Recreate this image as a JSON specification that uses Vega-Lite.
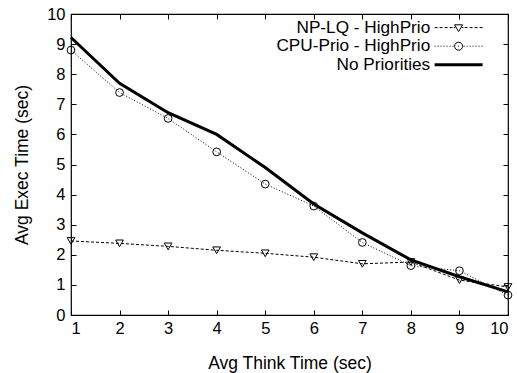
{
  "$schema": "https://vega.github.io/schema/vega-lite/v6.json",
  "width": 437,
  "height": 301,
  "autosize": "none",
  "padding": {"left": 71, "top": 14, "right": 9, "bottom": 58},
  "config": {
    "view": {"stroke": "black", "strokeWidth": 1.2},
    "font": "Liberation Sans",
    "axis": {
      "labelFont": "Liberation Sans", "labelFontSize": 16.5, "titleFont": "Liberation Sans", "titleFontSize": 17.5,
      "titleFontWeight": "normal", "labelColor": "black", "titleColor": "black", "tickColor": "black",
      "grid": false, "domain": false, "tickSize": -5, "tickWidth": 1
    }
  },
  "data": {"values": [
    {"t": 1, "s": "NP-LQ - HighPrio", "v": 2.46},
    {"t": 2, "s": "NP-LQ - HighPrio", "v": 2.38},
    {"t": 3, "s": "NP-LQ - HighPrio", "v": 2.28},
    {"t": 4, "s": "NP-LQ - HighPrio", "v": 2.15},
    {"t": 5, "s": "NP-LQ - HighPrio", "v": 2.05},
    {"t": 6, "s": "NP-LQ - HighPrio", "v": 1.92},
    {"t": 7, "s": "NP-LQ - HighPrio", "v": 1.70},
    {"t": 8, "s": "NP-LQ - HighPrio", "v": 1.76},
    {"t": 9, "s": "NP-LQ - HighPrio", "v": 1.16},
    {"t": 10, "s": "NP-LQ - HighPrio", "v": 0.93},
    {"t": 1, "s": "CPU-Prio - HighPrio", "v": 8.80},
    {"t": 2, "s": "CPU-Prio - HighPrio", "v": 7.39},
    {"t": 3, "s": "CPU-Prio - HighPrio", "v": 6.53},
    {"t": 4, "s": "CPU-Prio - HighPrio", "v": 5.42},
    {"t": 5, "s": "CPU-Prio - HighPrio", "v": 4.35},
    {"t": 6, "s": "CPU-Prio - HighPrio", "v": 3.62},
    {"t": 7, "s": "CPU-Prio - HighPrio", "v": 2.41},
    {"t": 8, "s": "CPU-Prio - HighPrio", "v": 1.64},
    {"t": 9, "s": "CPU-Prio - HighPrio", "v": 1.47},
    {"t": 10, "s": "CPU-Prio - HighPrio", "v": 0.66},
    {"t": 1, "s": "No Priorities", "v": 9.22},
    {"t": 2, "s": "No Priorities", "v": 7.70},
    {"t": 3, "s": "No Priorities", "v": 6.72},
    {"t": 4, "s": "No Priorities", "v": 6.00},
    {"t": 5, "s": "No Priorities", "v": 4.90},
    {"t": 6, "s": "No Priorities", "v": 3.69},
    {"t": 7, "s": "No Priorities", "v": 2.73},
    {"t": 8, "s": "No Priorities", "v": 1.83},
    {"t": 9, "s": "No Priorities", "v": 1.27},
    {"t": 10, "s": "No Priorities", "v": 0.77}
  ]},
  "resolve": {"axis": {"x": "independent", "y": "independent"}},
  "layer": [
    {
      "transform": [{"filter": "datum.s !== 'No Priorities'"}],
      "mark": {"type": "line", "strokeJoin": "miter", "strokeWidth": 1},
      "encoding": {
        "x": {"field": "t", "type": "quantitative", "scale": {"domain": [1, 10], "nice": false, "zero": false},
          "axis": {"orient": "bottom", "title": "Avg Think Time (sec)", "values": [1,2,3,4,5,6,7,8,9,10], "labelPadding": 10, "titlePadding": 17.5}},
        "y": {"field": "v", "type": "quantitative", "scale": {"domain": [0, 10], "nice": false},
          "axis": {"orient": "left", "title": "Avg Exec Time (sec)", "values": [0,1,2,3,4,5,6,7,8,9,10], "labelPadding": 11, "titlePadding": 15}},
        "color": {"field": "s", "type": "nominal",
          "scale": {"domain": ["NP-LQ - HighPrio", "CPU-Prio - HighPrio", "No Priorities"], "range": ["black", "black", "black"]},
          "legend": {
            "title": null, "orient": "none", "legendX": 379, "legendY": 5, "padding": 0,
            "labelFont": "Liberation Sans", "labelFontSize": 17.2, "labelColor": "black",
            "labelAlign": "right", "labelOffset": -37, "symbolSize": 64, "rowPadding": 0.6,
            "encode": {
              "symbols": {"update": {
                "shape": {"signal": "datum.value === 'NP-LQ - HighPrio' ? 'M-6,0H-5.25M-4.75,0H-4M-3.5,0H-2.75M-2.25,0H-1.5M-1.2,0H-0.8M0.8,0H1.2M1.5,0H2.25M2.75,0H3.5M4,0H4.75M5.25,0H6M-1,-0.7L1,-0.7L0,1Z' : datum.value === 'CPU-Prio - HighPrio' ? 'M-6,0h0.25M-5.25,0h0.25M-4.5,0h0.25M-3.75,0h0.25M-3,0h0.25M-2.25,0h0.25M-1.5,0h0.25M-0.125,0h0.25M1.25,0h0.25M2,0h0.25M2.75,0h0.25M3.5,0h0.25M4.25,0h0.25M5,0h0.25M5.75,0h0.25M1,0A1,1,0,1,1,-1,0A1,1,0,1,1,1,0Z' : 'M-6,-0.375H6V0.375H-6Z'"},
                "strokeWidth": {"signal": "datum.value === 'No Priorities' ? 0 : 1"},
                "stroke": {"value": "black"},
                "fill": {"signal": "datum.value === 'No Priorities' ? 'black' : 'transparent'"},
                "strokeDash": {"value": []}
              }}
            }
          }},
        "strokeDash": {"field": "s", "type": "nominal",
          "scale": {"domain": ["NP-LQ - HighPrio", "CPU-Prio - HighPrio"], "range": [[3, 2], [1, 2]]}, "legend": null}
      }
    },
    {
      "transform": [{"filter": "datum.s === 'No Priorities'"}],
      "mark": {"type": "line", "strokeJoin": "miter", "strokeWidth": 3},
      "encoding": {
        "x": {"field": "t", "type": "quantitative", "axis": null},
        "y": {"field": "v", "type": "quantitative", "axis": null},
        "color": {"field": "s", "type": "nominal", "legend": null}
      }
    },
    {
      "transform": [{"filter": "datum.s !== 'No Priorities'"}],
      "mark": {"type": "point", "filled": false, "color": "black", "strokeWidth": 1, "opacity": 1, "size": 60},
      "encoding": {
        "x": {"field": "t", "type": "quantitative", "axis": null},
        "y": {"field": "v", "type": "quantitative", "axis": null},
        "shape": {"field": "s", "type": "nominal",
          "scale": {"domain": ["NP-LQ - HighPrio", "CPU-Prio - HighPrio"], "range": ["triangle-down", "circle"]}, "legend": null}
      }
    },
    {
      "mark": {"type": "point", "opacity": 0},
      "encoding": {
        "x": {"field": "t", "type": "quantitative", "axis": {"orient": "top", "labels": false, "title": null, "values": [1,2,3,4,5,6,7,8,9,10]}},
        "y": {"field": "v", "type": "quantitative", "axis": {"orient": "right", "labels": false, "title": null, "values": [0,1,2,3,4,5,6,7,8,9,10]}}
      }
    }
  ]
}
